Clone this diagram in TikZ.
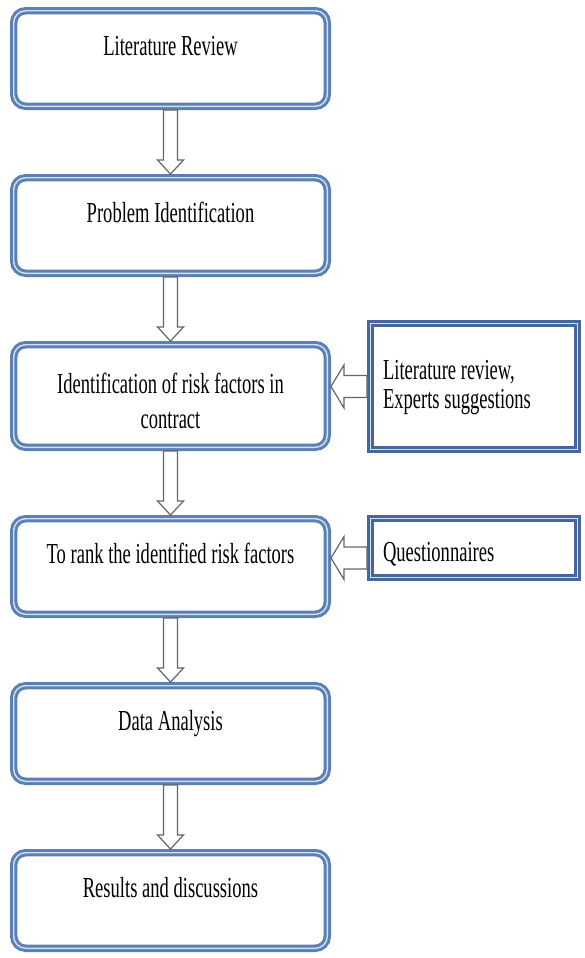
\documentclass[tikz,border=0pt]{standalone}
\usepackage{fontspec}
\setmainfont{Liberation Serif}[FakeStretch=0.64]
\usetikzlibrary{positioning,calc}
\definecolor{steel}{HTML}{5A80B4}
\definecolor{steelpale}{HTML}{D3E1F1}
\definecolor{deepsteel}{HTML}{46679B}
\definecolor{arrowgray}{HTML}{666666}
\tikzset{
  stage/.style={draw=steel,double=steelpale,double distance=0.7pt,line width=1.5pt,
    rounded corners=6pt,fill=white,outer sep=1.85pt,inner xsep=0pt,inner ysep=0pt,
    minimum width=156.8pt,align=center,font=\fontsize{14.5}{17.5}\selectfont,
    text height=22.15pt,text depth=25.65pt},
  source/.style={draw=deepsteel,double=steelpale,double distance=0.7pt,line width=1.5pt,
    fill=white,outer sep=1.85pt,inner xsep=6.15pt,inner ysep=0pt,text width=91pt,
    align=flush left,font=\fontsize{14.5}{14.5}\selectfont},
  downarrow/.style={draw=arrowgray,fill=white,line width=0.6pt,
    to path={-- ++(-3.5pt,0) -- ($(\tikztotarget)+(-3.5pt,7pt)$) -- ++(-3pt,0)
      -- (\tikztotarget) -- ++(6.5pt,7pt) -- ++(-3pt,0)
      -- ($(\tikztostart)+(3.5pt,0)$) -- cycle}},
  leftarrow/.style={draw=arrowgray,fill=white,line width=0.6pt,
    to path={-- ++(0,5.5pt) -- ($(\tikztotarget)+(6.5pt,5.5pt)$) -- ++(0,5.25pt)
      -- (\tikztotarget) -- ++(6.5pt,-10.75pt) -- ++(0,5.25pt)
      -- ($(\tikztostart)+(0,-5.5pt)$) -- cycle}}
}
\begin{document}
\begin{tikzpicture}[node distance=32pt]
  \useasboundingbox (0,0) rectangle (292pt,-479pt);

  \node[stage,anchor=north] (litrev) at (85.25pt,-3.5pt) {Literature Review};
  \node[stage,below=of litrev] (problem) {Problem Identification};
  \node[stage,below=of problem,text height=41.65pt,text depth=9.65pt] (riskid) {Identification of risk factors in\\contract};
  \node[stage,below=of riskid] (rank) {To rank the identified risk factors};
  \node[stage,below=of rank] (analysis) {Data Analysis};
  \node[stage,below=of analysis] (results) {Results and discussions};

  \node[source,above right=-1pt and 18pt of riskid.south east,text height=27.65pt,text depth=35.15pt] (inputs) {Literature review,\\Experts suggestions};
  \node[source,below right=0pt and 18pt of rank.north east,text height=21.15pt,text depth=8.15pt] (survey) {Questionnaires};

  \foreach \a/\b in {litrev/problem,problem/riskid,riskid/rank,rank/analysis,analysis/results}
    \draw[downarrow] (\a.south) to (\b.north);

  \draw[leftarrow] (inputs.west) to (inputs.west -| riskid.east);
  \coordinate (surveyport) at ([yshift=-5pt]survey.west);
  \draw[leftarrow] (surveyport) to (surveyport -| rank.east);
\end{tikzpicture}
\end{document}
